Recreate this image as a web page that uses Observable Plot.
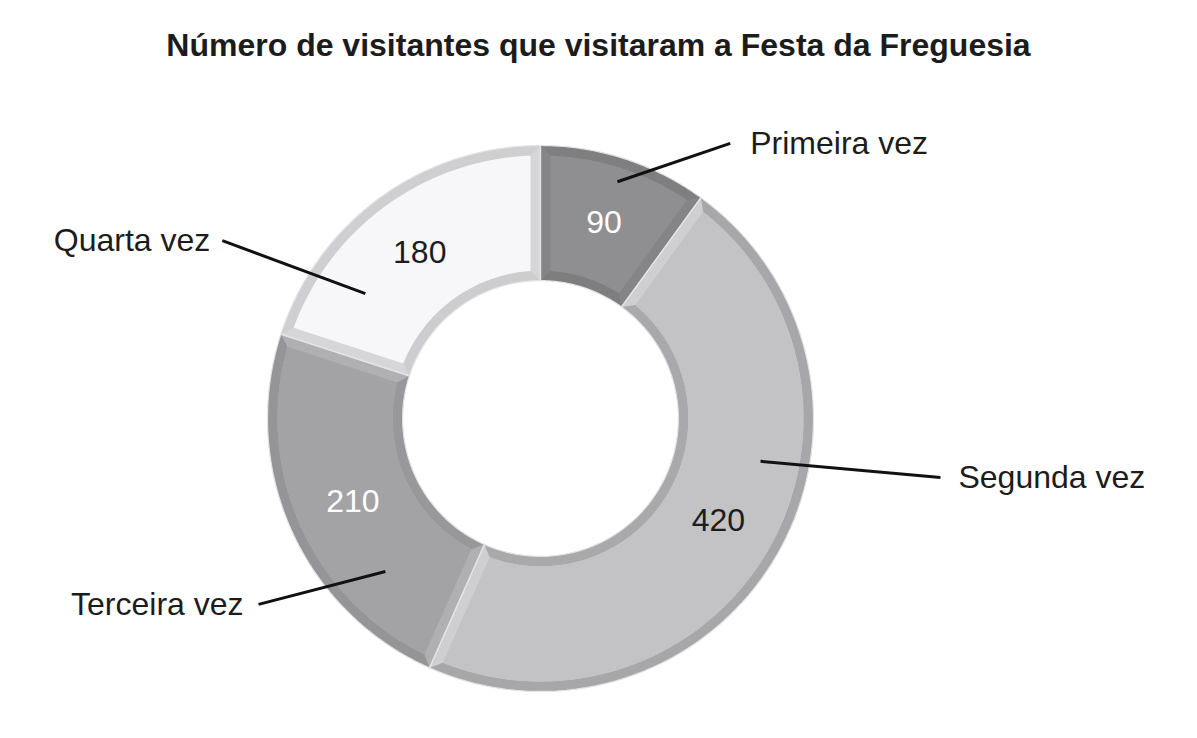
<!DOCTYPE html>
<html><head><meta charset="utf-8">
<script src="https://cdn.jsdelivr.net/npm/d3@7"></script>
<script src="https://cdn.jsdelivr.net/npm/@observablehq/plot@0.6"></script>
<style>
body{margin:0;background:#fff;width:1197px;height:738px;overflow:hidden;font-family:"Liberation Sans",Arial,sans-serif}
#title{height:90px;box-sizing:border-box;padding-top:27px;text-align:center;font-weight:bold;font-size:32px;color:#1c1c1c;line-height:36px;white-space:nowrap}
#chart svg{display:block}
</style></head><body>
<div id="title">Número de visitantes que visitaram a Festa da Freguesia</div>
<div id="chart"></div>
<script>
// ---- data ----
const categories = ["Primeira vez", "Segunda vez", "Terceira vez", "Quarta vez"];
const values = [90, 420, 210, 180];
const valueLabels = ["90", "420", "210", "180"];

// ---- styles ----
const faceColors  = ["#8f8f91", "#c3c3c5", "#a3a3a5", "#f7f7f9"];
const outerColors = ["#7f7f81", "#a7a7a9", "#959597", "#cfcfd1"];
const innerColors = ["#7e7e80", "#a9a9ab", "#98989a", "#cdcdcf"];
const edgeColors  = ["#858587", "#cfcfd1", "#b0b0b2", "#d6d6d8"];
const valueTextColors = ["#ffffff", "#1c1c1c", "#ffffff", "#1c1c1c"];

// label / leader layout (polar: degrees clockwise from 12 o'clock, radius in outer-radius units)
const leaderStartAngle = [18, 101, 225.4, 305.5];
const leaderStartRadius = [0.912, 0.821, 0.798, 0.788];
const leaderEndAngle = [34.6, 98.4, 236.6, 299.2];
const leaderEndRadius = [1.224, 1.481, 1.237, 1.335];
const labelAnchor = ["start", "start", "end", "end"];
const labelDx = [20, 18, -15, -12];

// ---- geometry ----
const W = 1197, H = 648, cx = 540, cy = 328, Rpx = 273;
const R = 1, r0 = 0.505, b = 10 / Rpx;
const rad = d => d * Math.PI / 180;
const P = (a, r) => ({x: r * Math.sin(a), y: r * Math.cos(a)});

const pie = d3.pie().sort(null).startAngle(0).endAngle(2 * Math.PI)(values);

function arc(a0, a1, r, n = 80) {
  const pts = [];
  for (let i = 0; i <= n; i++) pts.push(P(a0 + (a1 - a0) * i / n, r));
  return pts;
}

const polys = [];
pie.forEach((p, i) => {
  const a0 = p.startAngle, a1 = p.endAngle;
  const dO = Math.asin(b / (R - b)), dI = Math.asin(b / (r0 + b));
  const add = (id, color, pts) => pts.forEach(q => polys.push({...q, id: i + "-" + id, color}));
  add("slice", edgeColors[i], [...arc(a0, a1, R), ...arc(a1, a0, r0)]);
  add("outer", outerColors[i], [...arc(a0, a1, R), ...arc(a1 - dO, a0 + dO, R - b)]);
  add("inner", innerColors[i], [...arc(a0 + dI, a1 - dI, r0 + b), ...arc(a1, a0, r0)]);
  add("face", faceColors[i], [...arc(a0 + dO, a1 - dO, R - b), ...arc(a1 - dI, a0 + dI, r0 + b)]);
});

const outlines = [];
pie.forEach((p, i) => {
  [...arc(p.startAngle, p.endAngle, R), ...arc(p.endAngle, p.startAngle, r0), P(p.startAngle, R)]
    .forEach(q => outlines.push({...q, id: i}));
});

const valueText = pie.map((p, i) => ({...P((p.startAngle + p.endAngle) / 2, (R + r0) / 2), t: valueLabels[i], c: valueTextColors[i]}));

const leaders = categories.map((c, i) => {
  const s = P(rad(leaderStartAngle[i]), leaderStartRadius[i]);
  const e = P(rad(leaderEndAngle[i]), leaderEndRadius[i]);
  return {x1: s.x, y1: s.y, x2: e.x, y2: e.y, name: c, anchor: labelAnchor[i], dx: labelDx[i]};
});

const chart = Plot.plot({
  width: W, height: H, margin: 0,
  style: {fontFamily: "'Liberation Sans', Arial, sans-serif", background: "#fff"},
  x: {domain: [-cx / Rpx, (W - cx) / Rpx], range: [0, W], axis: null},
  y: {domain: [-(H - cy) / Rpx, cy / Rpx], range: [H, 0], axis: null},
  color: {type: "identity"},
  marks: [
    Plot.line(polys, {x: "x", y: "y", z: "id", fill: "color", stroke: "none", curve: "linear"}),
    Plot.line(outlines, {x: "x", y: "y", z: "id", stroke: "#e4e4e6", strokeWidth: 1.2, fill: "none"}),
    Plot.text(valueText, {x: "x", y: "y", text: "t", fill: "c", fontSize: 32}),
    Plot.link(leaders, {x1: "x1", y1: "y1", x2: "x2", y2: "y2", stroke: "#111", strokeWidth: 3}),
    ...leaders.map(l => Plot.text([l], {x: "x2", y: "y2", text: "name", textAnchor: l.anchor, dx: l.dx, fontSize: 32, fill: "#1c1c1c"}))
  ]
});
document.getElementById("chart").append(chart);
</script>
</body></html>
